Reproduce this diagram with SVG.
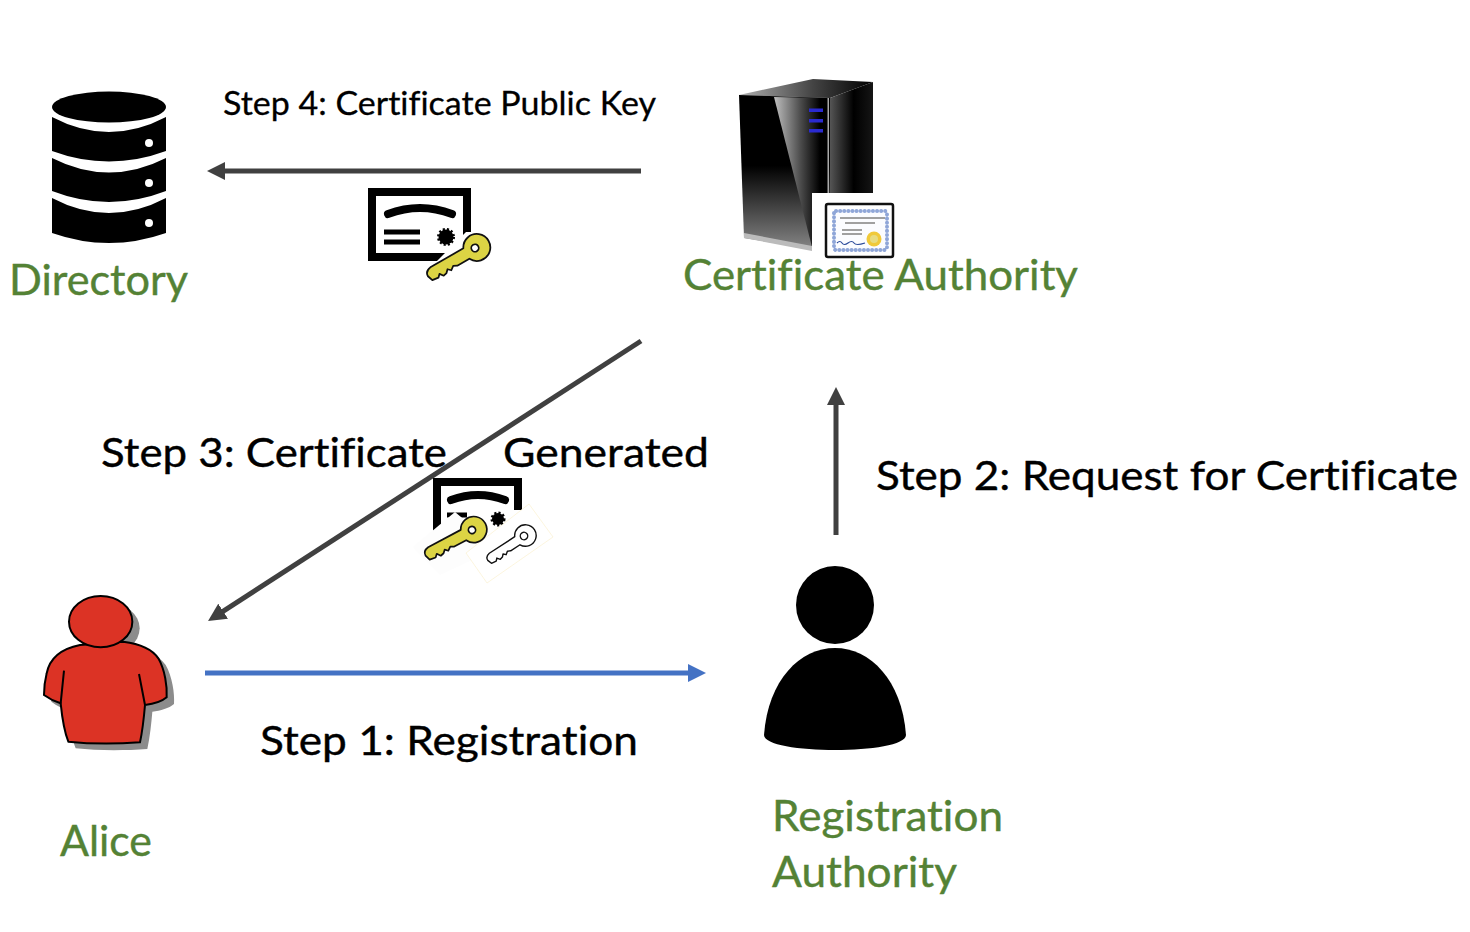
<svg xmlns="http://www.w3.org/2000/svg" xmlns:xlink="http://www.w3.org/1999/xlink" width="1470" height="932" viewBox="0 0 1470 932">
<style>
text{font-family:"Lato","Open Sans","Liberation Sans",sans-serif;font-variant-ligatures:none}
.lab{font-size:42px;fill:#548235;stroke:#548235;stroke-width:.4}
.st{font-size:41px;fill:#000;stroke:#000;stroke-width:.4}
.st4{font-size:33px;fill:#000;stroke:#000;stroke-width:.3}
.c{fill:none;stroke:#404040;stroke-width:5}
.cb{fill:none;stroke:#4472c4;stroke-width:5}
.fr{fill:none;stroke:#000;stroke-width:8}
.arc{fill:none;stroke:#000;stroke-width:8;stroke-linecap:round}
.ln{stroke:#000;stroke-width:5}
.certl{stroke:#a0a0a0;stroke-width:2}
.seal{fill:#000;stroke:#000;stroke-width:3;stroke-dasharray:2 2}
</style>
<defs>
<marker id="ah" markerUnits="userSpaceOnUse" markerWidth="18" markerHeight="18" refX="9" refY="9" orient="auto"><path d="M0,0L18,9L0,18Z" fill="#404040"/></marker>
<marker id="ahb" markerUnits="userSpaceOnUse" markerWidth="18" markerHeight="18" refX="9" refY="9" orient="auto"><path d="M0,0L18,9L0,18Z" fill="#4472c4"/></marker>
<linearGradient id="gloss" x1="0" x2="1" y1="0" y2="0"><stop offset="0" stop-color="#c0c0c0"/><stop offset=".5" stop-color="#4a4a4a"/><stop offset=".85" stop-color="#000"/></linearGradient>
<linearGradient id="front" x1="0" x2="0" y1="0" y2="1"><stop offset=".45" stop-color="#000"/><stop offset="1" stop-color="#8a8a8a"/></linearGradient>
<linearGradient id="side" x1="0" x2="1" y1="0" y2="0"><stop offset="0" stop-color="#555"/><stop offset=".55" stop-color="#000"/><stop offset="1" stop-color="#151515"/></linearGradient>
<linearGradient id="top" x1="0" x2="1" y1="0" y2="0"><stop offset="0" stop-color="#b0b0b0"/><stop offset=".55" stop-color="#444"/><stop offset="1" stop-color="#000"/></linearGradient>
<path id="key" d="M-11,-6L-52,-6Q-59,-5 -59,1L-57,7L-50,8L-47,5L-44,9L-40,8L-37,5L-34,8L-30,5L-26,7L-11,7A14.500,14.500 0 1 0 -11,-6Z" stroke="#111" stroke-width="1.900" stroke-linejoin="round"/>
</defs>

<g id="connectors">
<path class="c" d="M641,171L216,171" marker-end="url(#ah)"/>
<path class="c" d="M641,341L215.600,616.100" marker-end="url(#ah)"/>
<path class="c" d="M836,535L836,396" marker-end="url(#ah)"/>
<path class="cb" d="M205,673L697,673" marker-end="url(#ahb)"/>
</g>

<g id="directory">
<ellipse cx="109" cy="107" rx="57" ry="15.500"/>
<path d="M52,117Q109,147 166,117V151Q109,172 52,151Z"/>
<path d="M52,158Q109,187 166,158V191Q109,213 52,191Z"/>
<path d="M52,198Q109,228 166,198V233Q109,253 52,233Z"/>
<g fill="#fff"><circle cx="149" cy="143" r="4"/><circle cx="149" cy="183" r="4"/><circle cx="149" cy="223" r="4"/></g>
<text class="lab" x="9" y="295" textLength="179" lengthAdjust="spacingAndGlyphs">Directory</text>
</g>

<g id="certificate-authority">
<path d="M739,95L813,79L873,82L830,98Z" fill="url(#top)"/>
<path d="M739,95L830,98V252L744,238Z" fill="url(#front)"/>
<path d="M774,97L828,98V250L812,247Z" fill="url(#gloss)"/>
<path d="M830,98L873,82V193L830,215Z" fill="url(#side)"/>
<path d="M744,233L812,246V251L744,238Z" fill="#bbb"/>
<rect x="827.500" y="98" width="1.500" height="100" fill="#aaa"/>
<g fill="#2a2ad0"><rect x="809" y="108.500" width="14" height="3.500"/><rect x="809" y="119" width="14" height="3.500"/><rect x="809" y="129" width="14" height="3.500"/></g>
<rect x="812" y="193" width="84" height="67" fill="#fff"/>
<rect x="826" y="204" width="67" height="53" rx="2" fill="#fff" stroke="#111" stroke-width="2.500"/>
<rect x="834" y="211" width="53" height="39" rx="2" fill="#fbfcff" stroke="#8fa6d8" stroke-width="4" stroke-linecap="round" stroke-dasharray="0.1 4"/>
<path class="certl" d="M840,218H885M845,223H875M842,230H862M842,234H862"/>
<path d="M837,243Q840,240 842,243T848,243T854,243T865,243" fill="none" stroke="#2a4a9a" stroke-width="1.200"/>
<circle cx="874" cy="239" r="7.500" fill="#f0c93a"/><circle cx="874" cy="239" r="4" fill="#e8dc80"/>
<text class="lab" x="683" y="290" textLength="395" lengthAdjust="spacingAndGlyphs">Certificate Authority</text>
</g>

<g id="cert-public-key">
<rect x="372" y="192" width="95" height="65" class="fr"/>
<path class="arc" d="M388,214Q420,202 452,214"/>
<path class="ln" d="M384,232H420M384,242H420"/>
<circle cx="446" cy="237" r="7.500" class="seal"/>
<path d="M422,262L436,262L466,232L497,232L497,290L420,290Z" fill="#fff"/>
<g transform="translate(475,248) rotate(-30) scale(.93)"><use xlink:href="#key" href="#key" fill="#dcd444"/><circle r="4" fill="#fff" stroke="#111" stroke-width="1.900"/></g>
</g>

<g id="cert-generated">
<path d="M437,531V482H518V510" class="fr"/>
<path class="arc" d="M451,500Q478,490 505,500"/>
<path class="ln" d="M447,515H467"/>
<circle cx="498" cy="519" r="6" class="seal"/>
<path d="M413,547L455,512L498,548L440,575Z" fill="#fdfdfd"/>
<path d="M529,504L553,537L487,583L466,553Z" fill="#fff" stroke="#fbf0d0" stroke-width=".7"/>
<g transform="translate(472,530) rotate(-28) scale(.9)"><use xlink:href="#key" href="#key" fill="#dcd444"/><circle r="4" fill="#fff" stroke="#111" stroke-width="1.900"/></g>
<g transform="translate(524,536) rotate(-33) scale(.74)"><use xlink:href="#key" href="#key" fill="#fff"/><circle r="5" fill="#fff" stroke="#111" stroke-width="1.900"/></g>
</g>

<g id="alice">
<g transform="translate(30,580) scale(.33333)">
<g fill="#8c8c8c" transform="translate(22,20)">
<ellipse cx="212" cy="125" rx="95" ry="77"/>
<path d="M150,195C100,205 60,230 50,280C45,300 42,330 42,345C60,358 75,365 92,370C96,410 105,460 115,485C180,492 260,492 330,487C338,450 342,410 345,375C370,372 395,365 410,352C412,320 405,270 385,235C365,205 320,190 280,185Z"/>
</g>
<path d="M150,195C100,205 60,230 50,280C45,300 42,330 42,345C60,358 75,365 92,370C96,410 105,460 115,485C180,492 260,492 330,487C338,450 342,410 345,375C370,372 395,365 410,352C412,320 405,270 385,235C365,205 320,190 280,185Z" fill="#dc3325" stroke="#000" stroke-width="6"/>
<path d="M102,272L92,370M327,282L345,375" fill="none" stroke="#000" stroke-width="6"/>
<ellipse cx="212" cy="125" rx="95" ry="77" fill="#dc3325" stroke="#000" stroke-width="6"/>
</g>
<text class="lab" x="60" y="856" textLength="92" lengthAdjust="spacingAndGlyphs">Alice</text>
</g>

<g id="registration-authority">
<circle cx="835" cy="605" r="39"/>
<path d="M764,735C768,680 800,648 835,648C870,648 902,680 906,735C906,745 870,750 835,750C800,750 764,745 764,735Z"/>
<text class="lab" x="772" y="831" textLength="231" lengthAdjust="spacingAndGlyphs">Registration</text>
<text class="lab" x="772" y="887" textLength="185" lengthAdjust="spacingAndGlyphs">Authority</text>
</g>

<g id="labels">
<text class="st4" x="223" y="115" textLength="433" lengthAdjust="spacingAndGlyphs">Step 4: Certificate Public Key</text>
<text class="st" x="101" y="467" textLength="346" lengthAdjust="spacingAndGlyphs">Step 3: Certificate</text>
<text class="st" x="503" y="467" textLength="206" lengthAdjust="spacingAndGlyphs">Generated</text>
<text class="st" x="876" y="490" textLength="582" lengthAdjust="spacingAndGlyphs">Step 2: Request for Certificate</text>
<text class="st" x="260" y="755" textLength="378" lengthAdjust="spacingAndGlyphs">Step 1: Registration</text>
</g>
</svg>
